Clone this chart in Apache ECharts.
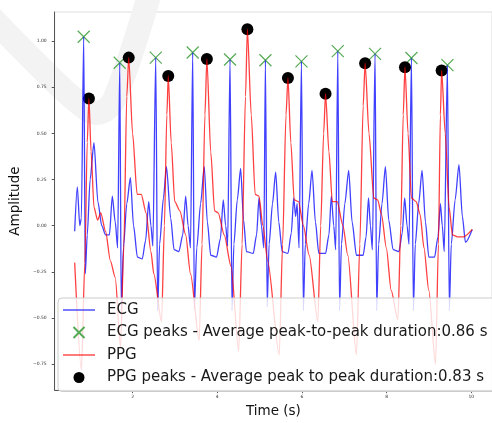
<!DOCTYPE html>
<html>
<head>
<meta charset="utf-8">
<script src="https://cdn.jsdelivr.net/npm/echarts@6/dist/echarts.min.js"></script>
<style>
html,body{margin:0;padding:0;background:#fff;}
#chart{width:492px;height:423px;}
</style>
</head>
<body>
<div id="chart"></div>
<script>
// ---- data ----
var ecgTime = [0.632,0.694,0.753,0.790,0.845,0.883,0.929,0.997,1.088,1.180,1.271,1.362,1.453,1.521,1.590,1.647,
  1.697,1.733,1.783,1.863,1.948,2.023,2.114,2.228,2.308,2.381,2.433,2.479,
  2.547,2.593,2.638,2.729,2.800,2.900,2.980,3.094,3.185,3.254,3.311,3.368,
  3.420,3.459,3.516,3.607,3.693,3.766,3.846,3.983,4.074,4.142,4.199,4.245,
  4.302,4.348,4.393,4.473,4.553,4.621,4.690,4.849,4.929,4.986,5.043,5.100,
  5.138,5.179,5.225,5.305,5.380,5.453,5.533,5.670,5.749,5.806,5.852,5.886,5.932,
  5.989,6.034,6.080,6.160,6.239,6.319,6.399,6.559,6.638,6.695,6.752,6.798,
  6.848,6.889,6.934,7.014,7.105,7.185,7.288,7.447,7.516,7.573,7.618,7.664,
  7.728,7.766,7.812,7.892,7.972,8.051,8.154,8.291,8.370,8.427,8.484,8.530,
  8.587,8.633,8.678,8.758,8.838,8.918,8.997,9.134,9.214,9.271,9.316,9.362,
  9.437,9.482,9.528,9.619,9.710,9.790,9.863,10.023];
var ecgAmp = [-0.03,0.21,0.00,0.04,1.023,-0.26,-0.05,0.25,0.45,0.13,0.00,-0.05,-0.05,0.16,0.02,-0.12,
  0.882,-0.46,-0.12,0.12,0.26,0.00,-0.17,-0.18,-0.08,0.13,0.00,-0.11,
  0.91,-0.46,-0.10,0.15,0.32,0.04,-0.13,-0.14,-0.05,0.16,0.00,-0.12,
  0.938,-0.45,-0.12,0.12,0.32,0.02,-0.16,-0.17,-0.07,0.14,0.00,-0.11,
  0.90,-0.46,-0.10,0.14,0.31,0.03,-0.14,-0.15,-0.05,0.15,0.00,-0.12,
  0.896,-0.44,-0.10,0.12,0.29,0.02,-0.14,-0.15,-0.04,0.15,0.05,0.12,-0.12,
  0.89,-0.46,-0.10,0.12,0.30,0.02,-0.15,-0.15,-0.05,0.16,0.00,-0.13,
  0.945,-0.46,-0.10,0.12,0.30,0.02,-0.16,-0.16,-0.06,0.15,0.00,-0.13,
  0.93,-0.46,-0.10,0.12,0.32,0.03,-0.13,-0.14,-0.04,0.15,0.00,-0.10,
  0.908,-0.46,-0.10,0.12,0.30,0.02,-0.17,-0.17,-0.06,0.12,0.00,-0.14,
  0.869,-0.46,-0.10,0.14,0.33,0.05,-0.09,-0.02];

var ppgTime = [0.632,0.792,0.872,0.929,0.968,1.020,1.088,1.173,1.248,1.362,1.476,1.590,
  1.715,1.795,1.863,1.909,2.000,2.107,2.205,2.319,2.433,2.501,
  2.684,2.752,2.809,2.843,2.912,2.996,3.117,3.254,3.368,
  3.573,3.641,3.709,3.755,3.846,3.937,4.022,4.165,4.325,
  4.507,4.587,4.667,4.712,4.803,4.895,4.986,5.077,5.191,
  5.464,5.544,5.624,5.670,5.738,5.818,5.920,6.034,6.171,
  6.376,6.444,6.513,6.558,6.638,6.718,6.832,6.969,7.083,
  7.288,7.368,7.447,7.493,7.584,7.698,7.789,7.880,7.994,8.108,
  8.268,8.336,8.393,8.434,8.507,8.587,8.701,8.792,8.883,8.997,
  9.157,9.225,9.271,9.300,9.385,9.476,9.556,9.681,9.818,10.023];
var ppgAmp = [-0.20,-0.78,-0.20,0.45,0.689,0.40,0.10,0.03,0.07,-0.03,-0.19,-0.28,
  -0.66,-0.10,0.70,0.91,0.50,0.17,0.17,0.07,-0.14,-0.26,
  -0.52,0.00,0.60,0.811,0.45,0.13,0.08,-0.05,-0.26,
  -0.62,-0.10,0.60,0.903,0.40,0.08,0.07,-0.05,-0.22,
  -0.68,-0.10,0.70,1.064,0.60,0.17,0.16,0.00,-0.19,
  -0.70,-0.10,0.60,0.80,0.45,0.14,0.13,0.00,-0.16,
  -0.52,0.00,0.50,0.715,0.40,0.13,0.13,0.00,-0.16,
  -0.70,-0.10,0.65,0.88,0.50,0.15,0.14,0.06,-0.12,-0.35,
  -0.51,0.00,0.60,0.858,0.50,0.15,0.13,0.06,-0.12,-0.35,
  -0.75,-0.10,0.60,0.84,0.50,0.10,-0.05,-0.06,-0.06,-0.02];

var ecgPeakTime = [0.845,1.697,2.547,3.420,4.302,5.138,5.989,6.848,7.728,8.587,9.437];
var ecgPeakAmp  = [1.023,0.882,0.91,0.938,0.90,0.896,0.89,0.945,0.93,0.908,0.869];
var ppgPeakTime = [0.968,1.909,2.843,3.755,4.712,5.670,6.558,7.493,8.434,9.300];
var ppgPeakAmp  = [0.689,0.91,0.811,0.903,1.064,0.80,0.715,0.88,0.858,0.84];

var xTicks = [2,4,6,8,10];
var yTicks = [-0.75,-0.5,-0.25,0,0.25,0.5,0.75,1.0];

var seriesNames = ['ECG','ECG peaks - Average peak-to-peak duration:0.86 s','PPG','PPG peaks - Average peak to peak duration:0.83 s'];
var xName = 'Time (s)';
var yName = 'Amplitude';

function pairs(a,b){return a.map(function(v,i){return [v,b[i]];});}

var FONT = 'DejaVu Sans';
var LINE_ICON = 'path://M0,0L32,0L32,1.4L0,1.4Z';
var chart = echarts.init(document.getElementById('chart'), null, {renderer:'canvas'});
chart.setOption({
  animation:false,
  backgroundColor:'#ffffff',
  graphic:[{
    type:'polyline', z:0, silent:true,
    shape:{points:[[-8,18],[35,62],[75,100],[97,113],[114,100],[150,-8]], smooth:0.35},
    style:{stroke:'#f3f3f3', lineWidth:24, fill:null, lineCap:'round', lineJoin:'round'}
  }],
  grid:{left:49, top:12, right:-10, bottom:25, show:true, borderColor:'#dddddd', borderWidth:1, backgroundColor:'transparent'},
  xAxis:{
    type:'value', min:0.16, max:10.49,
    name:xName, nameLocation:'middle', nameGap:9,
    nameTextStyle:{fontFamily:FONT, fontSize:13.5, color:'#111'},
    axisLine:{show:true, onZero:false, lineStyle:{color:'#555', width:1}},
    axisTick:{show:true, length:3, customValues:xTicks, lineStyle:{color:'#555'}},
    axisLabel:{customValues:xTicks, fontFamily:FONT, fontSize:4.5, color:'#333', margin:4},
    splitLine:{show:false}
  },
  yAxis:{
    type:'value', min:-0.89, max:1.157,
    name:yName, nameLocation:'middle', nameGap:24, nameRotate:90,
    nameTextStyle:{fontFamily:FONT, fontSize:13.5, color:'#111'},
    axisLine:{show:true, onZero:false, lineStyle:{color:'#555', width:1}},
    axisTick:{show:true, length:3, customValues:yTicks, lineStyle:{color:'#555'}},
    axisLabel:{customValues:yTicks, fontFamily:FONT, fontSize:4.5, color:'#333', margin:8,
      formatter:function(v){return (v<0?'\u2212':'')+Math.abs(v).toFixed(2);}},
    splitLine:{show:false}
  },
  legend:{
    orient:'vertical', left:58, top:298,
    padding:[3,10,5,5], itemGap:4.5, itemWidth:32, itemHeight:11,
    backgroundColor:'rgba(255,255,255,0.8)', borderColor:'#cccccc', borderWidth:1, borderRadius:4,
    textStyle:{fontFamily:FONT, fontSize:15, color:'#1a1a1a', lineHeight:18, padding:[0,0,0,7]},
    data:[
      {name:seriesNames[0], icon:LINE_ICON},
      {name:seriesNames[1]},
      {name:seriesNames[2], icon:LINE_ICON},
      {name:seriesNames[3]}
    ]
  },
  series:[
    {name:seriesNames[0], type:'line', symbol:'none', data:pairs(ecgTime,ecgAmp),
      smooth:0.25, smoothMonotone:'x',
      lineStyle:{color:'rgba(0,0,255,0.75)', width:1.3}, itemStyle:{color:'rgba(0,0,255,0.75)'}},
    {name:seriesNames[1], type:'scatter', data:pairs(ecgPeakTime,ecgPeakAmp),
      symbol:'path://M0,0L10,10M10,0L0,10', symbolSize:12,
      itemStyle:{color:'rgba(0,0,0,0)', borderColor:'#55aa55', borderWidth:1.2, opacity:1}},
    {name:seriesNames[2], type:'line', symbol:'none', data:pairs(ppgTime,ppgAmp),
      smooth:0.25, smoothMonotone:'x',
      lineStyle:{color:'rgba(255,0,0,0.75)', width:1.3}, itemStyle:{color:'rgba(255,0,0,0.75)'}},
    {name:seriesNames[3], type:'scatter', data:pairs(ppgPeakTime,ppgPeakAmp),
      symbol:'circle', symbolSize:12, itemStyle:{color:'#000000', opacity:1}}
  ]
});
</script>
</body>
</html>
